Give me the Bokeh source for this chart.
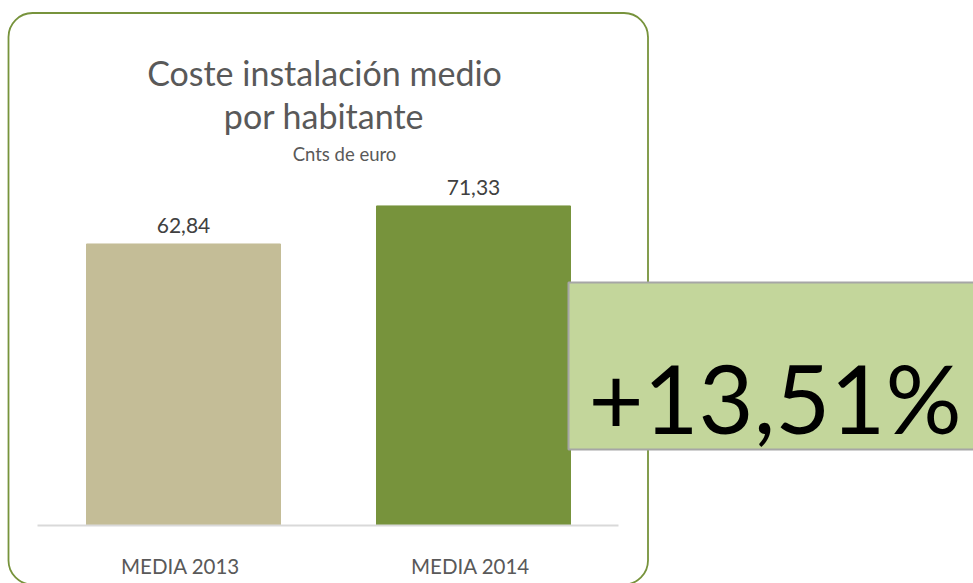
from bokeh.plotting import figure
from bokeh.models import Range1d, BoxAnnotation, ColumnDataSource
from bokeh.core.properties import value
from bokeh.embed import file_html
from bokeh.resources import INLINE

# ---- data ----
categories = ["MEDIA 2013", "MEDIA 2014"]
values = [62.84, 71.33]
value_labels = ["62,84", "71,33"]
bar_colors = ["#C4BD97", "#77933C"]
title_lines = ["Coste instalación medio", "por habitante"]
subtitle = "Cnts de euro"
change_label = "+13,51%"

# ---- layout (pixels on the canvas) ----
W, H = 973, 583
BASE_PX = 525          # baseline y on canvas
PX_PER_UNIT = 4.48     # value scale
X0_PX = 183.0          # centre of first category
X_STEP = 290.0         # px between categories
FONT = "Lato"

def dx(px):
    return (px - X0_PX) / X_STEP

def dy(py):
    return (BASE_PX - py) / PX_PER_UNIT

p = figure(width=W, height=H, output_backend="svg", toolbar_location=None,
           x_range=Range1d(dx(0), dx(W)), y_range=Range1d(dy(H), dy(0)),
           min_border=0)
p.axis.visible = False
p.grid.visible = False
p.outline_line_color = None
p.background_fill_color = "white"

# rounded border of the chart card
p.add_layout(BoxAnnotation(left=dx(8), right=dx(647.5), top=dy(12.5), bottom=dy(584),
                           fill_color=None, fill_alpha=0, line_color="#77933C",
                           line_alpha=1.0, line_width=1.8,
                           border_radius=24, level="underlay"))

xs = list(range(len(categories)))
src = ColumnDataSource(dict(x=xs, top=values, color=bar_colors,
                            lab=value_labels, cat=categories))

p.vbar(x="x", top="top", width=194 / X_STEP, color="color", source=src)

# axis line
p.segment(x0=[dx(37)], y0=[0], x1=[dx(618)], y1=[0], line_color="#D9D9D9", line_width=2)

# value labels
p.text(x="x", y="top", text="lab", source=src, y_offset=-18.5,
       text_align="center", text_baseline="alphabetic", text_font=value(FONT),
       text_font_size="21px", text_color="#404040")
# category labels
p.text(x="x", y=0, text="cat", source=src, y_offset=40, x_offset=-3,
       text_align="center", text_baseline="alphabetic", text_font=value(FONT),
       text_font_size="20.5px", text_color="#595959")

# titles
p.text(x=[dx(324), dx(323.5)], y=[dy(72), dy(115)], text=title_lines,
       text_align="center", text_baseline="alphabetic", text_font=value(FONT),
       text_font_size="34px", text_color="#595959")
p.text(x=[dx(344)], y=[dy(153)], text=[subtitle],
       text_align="center", text_baseline="alphabetic", text_font=value(FONT),
       text_font_size="18.5px", text_color="#595959")

# change box (drawn on top of the bars)
p.quad(left=[dx(568)], right=[dx(985)], top=[dy(282)], bottom=[dy(449)],
       fill_color="#C3D69B", line_color="#A6A6A6", line_width=2)
p.text(x=[dx(774.5)], y=[dy(396)], text=[change_label],
       text_align="center", text_baseline="alphabetic", text_font=value(FONT),
       text_font_size="95px", text_color="#000000")

open("out.html", "w").write(file_html(p, INLINE))
